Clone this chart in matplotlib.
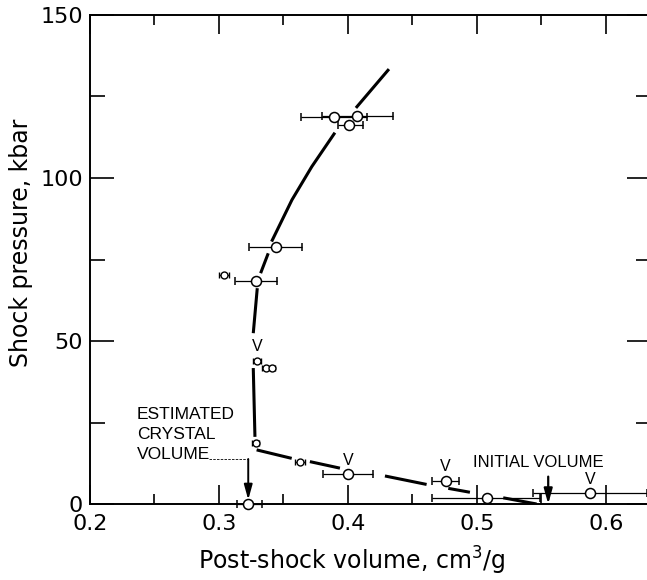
import matplotlib
matplotlib.use("Agg")
import matplotlib.pyplot as plt
import numpy as np

# points : volume (cm3/g), pression (kbar), barre d'erreur gauche/droite
vol = [0.3894, 0.4072, 0.4010, 0.3442, 0.3284, 0.4002, 0.4757, 0.5075, 0.5876, 0.3227]
pres = [118.6, 119.1, 116.3, 78.9, 68.5, 9.2, 7.1, 1.9, 3.3, 0.0]
err_lo = [0.3633, 0.3796, 0.3923, 0.3235, 0.3124, 0.3804, 0.4654, 0.4654, 0.5437, 0.3137]
err_hi = [0.4145, 0.4346, 0.4116, 0.3640, 0.3452, 0.4191, 0.4860, 0.5488, 0.6320, 0.3330]
v_flag = [False, False, False, False, False, True, True, False, True, False]

# petits points (barres d'erreur tres courtes)
vol_small = [0.3041, 0.3297, 0.3362, 0.3408, 0.3284, 0.3628]
pres_small = [70.2, 44.0, 41.8, 41.8, 18.8, 13.0]
err_small = [0.0040, 0.0030, 0.0030, 0.0030, 0.0030, 0.0040]
v_flag_small = [False, True, False, False, False, False]

# courbe de Hugoniot, tracee en morceaux (interrompue autour des points)
curve_segments = [
    ([0.4318, 0.4062], [133.4, 121.5]),
    ([0.3899, 0.3720, 0.3566, 0.3408], [113.9, 103.5, 93.3, 80.5]),
    ([0.3382, 0.3323], [76.9, 70.8]),
    ([0.3297, 0.3266], [66.2, 52.4]),
    ([0.3266, 0.3279], [41.7, 20.6]),
    ([0.3292, 0.3564], [16.6, 14.0]),
    ([0.3705, 0.3938], [13.0, 11.0]),
    ([0.4287, 0.4610], [8.6, 6.0]),
    ([0.4778, 0.4946], [4.8, 3.6]),
    ([0.5204, 0.5463], [1.9, 0.0]),
]

crystal_volume = 0.3227
initial_volume = 0.5553

narrow = ['DejaVu Sans Condensed', 'Liberation Sans Narrow', 'Liberation Sans', 'DejaVu Sans']

fig = plt.figure(figsize=(6.47, 5.8), dpi=100)
ax = fig.add_axes([90 / 647, 76 / 580, 561 / 647, 489 / 580])

for sx, sy in curve_segments:
    ax.plot(sx, sy, color='black', lw=2.2, solid_capstyle='butt', zorder=2)

vol = np.array(vol)
pres = np.array(pres)
xerr = np.vstack([vol - np.array(err_lo), np.array(err_hi) - vol])
ax.errorbar(vol, pres, xerr=xerr, fmt='o', ms=7.2, mfc='white', mec='black',
            mew=1.1, ecolor='black', elinewidth=0.9, capsize=3, capthick=1.0,
            zorder=3, clip_on=False)
ax.errorbar(vol_small, pres_small, xerr=err_small, fmt='o', ms=5.0, mfc='white',
            mec='black', mew=1.0, ecolor='black', elinewidth=0.9, capsize=2.5,
            capthick=1.0, zorder=3, clip_on=False)

for x, y, f in list(zip(vol, pres, v_flag)) + list(zip(vol_small, pres_small, v_flag_small)):
    if f:
        ax.annotate('V', (x, y), xytext=(0, 10), textcoords='offset points',
                    ha='center', va='center', fontsize=11.5, family=narrow)

# volume cristallin estime
ax.text(0.2364, 21.3, 'ESTIMATED\nCRYSTAL\nVOLUME', fontsize=12.5,
        family=narrow, ha='left', va='center', linespacing=1.4)
ax.plot([0.2925, crystal_volume], [13.8, 13.8], color='black', lw=0.6, ls=(0, (3, 1.5)))
ax.annotate('', xy=(crystal_volume, 1.3), xytext=(crystal_volume, 13.8),
            arrowprops=dict(arrowstyle='-|>,head_length=0.9,head_width=0.25',
                            color='black', lw=1.4, shrinkA=0, shrinkB=0))

# volume initial
ax.text(0.5475, 12.8, 'INITIAL VOLUME', fontsize=12, family=narrow,
        ha='center', va='center')
ax.annotate('', xy=(initial_volume, 0), xytext=(initial_volume, 8.4),
            arrowprops=dict(arrowstyle='-|>,head_length=0.9,head_width=0.25',
                            color='black', lw=1.6, shrinkA=0, shrinkB=0))

ax.set_xlim(0.2, 0.635)
ax.set_ylim(0, 150)
ax.set_xticks([0.2, 0.3, 0.4, 0.5, 0.6])
ax.set_xticklabels(['0.2', '0.3', '0.4', '0.5', '0.6'])
ax.set_xticks([0.25, 0.35, 0.45, 0.55], minor=True)
ax.set_yticks([0, 50, 100, 150])
ax.set_yticks([25, 75, 125], minor=True)

ax.tick_params(which='both', direction='in', top=True, right=True, width=1.2,
               labelsize=16)
ax.tick_params(axis='x', which='major', length=13.5, pad=7)
ax.tick_params(axis='x', which='minor', length=7)
ax.tick_params(axis='y', which='major', length=17, pad=5)
ax.tick_params(axis='y', which='minor', length=11)
for sp in ax.spines.values():
    sp.set_linewidth(1.4)

ax.set_xlabel('Post-shock volume, cm$^3$/g', fontsize=17, va='center')
ax.xaxis.set_label_coords(0.467, -0.117)
ax.set_ylabel('Shock pressure, kbar', fontsize=17, va='center')
ax.yaxis.set_label_coords(-0.123, 0.534)

fig.savefig('out.png', dpi=100)
